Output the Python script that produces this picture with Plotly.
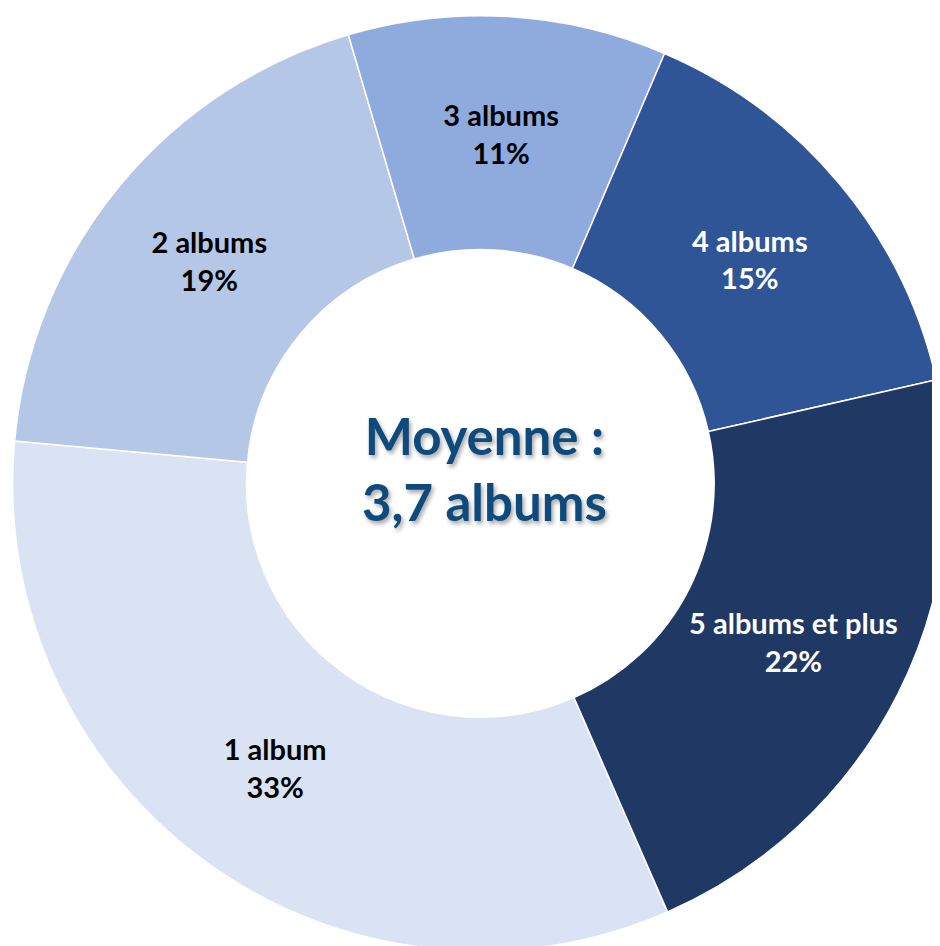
import plotly.graph_objects as go

categories = ["1 album", "2 albums", "3 albums", "4 albums", "5 albums et plus"]
shares = [33, 19, 11, 15, 22]
slice_colors = ["#DAE3F3", "#B4C7E7", "#8FAADC", "#2F5597", "#203864"]
label_colors = ["#000000", "#000000", "#000000", "#FFFFFF", "#FFFFFF"]
center_text = "Moyenne :<br>3,7 albums"

fig = go.Figure(go.Pie(
    labels=categories,
    values=shares,
    hole=0.5,
    sort=False,
    direction="clockwise",
    rotation=156.4,
    marker=dict(colors=slice_colors, line=dict(color="#FFFFFF", width=1.5)),
    texttemplate="%{label}<br>%{percent:.0%}",
    textposition="inside",
    insidetextorientation="horizontal",
    textfont=dict(family="Lato", size=29, color=label_colors, weight="bold"),
    showlegend=False,
    domain=dict(x=[0.005, 1], y=[0, 0.995]),
))

fig.add_annotation(
    text=center_text, x=0.507, y=0.513, xref="paper", yref="paper",
    showarrow=False,
    font=dict(family="Lato", size=51, color="#0E4A7C", weight="bold",
              shadow="2px 3px 4px rgba(0,0,0,0.35)"),
)

fig.update_layout(
    width=940, height=946,
    margin=dict(l=0, r=0, t=0, b=0),
    paper_bgcolor="white",
    plot_bgcolor="white",
)

fig.write_html("out.html")
